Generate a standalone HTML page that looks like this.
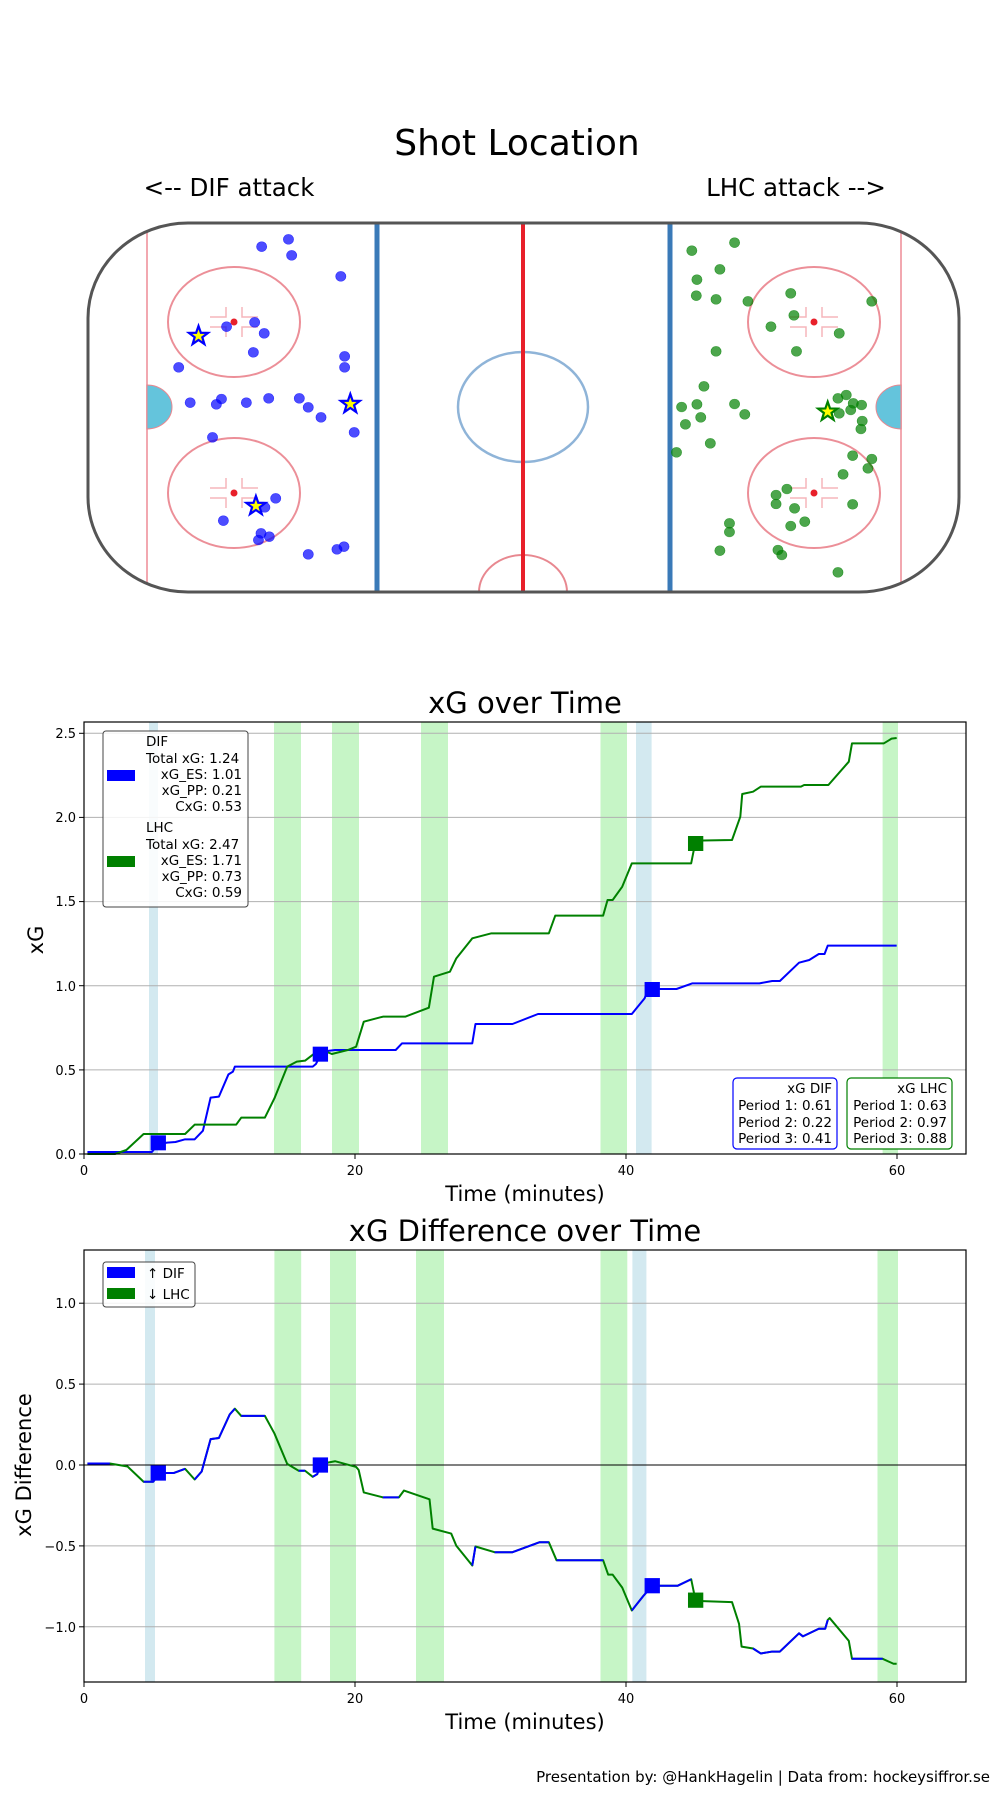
<!DOCTYPE html>
<html><head><meta charset="utf-8"><style>
html,body{margin:0;padding:0;background:#fff;}
svg{display:block;font-family:"DejaVu Sans","Liberation Sans",sans-serif;}
</style></head><body>
<svg width="1000" height="1800" viewBox="0 0 1000 1800" xmlns="http://www.w3.org/2000/svg">
<defs>
<polygon id="star" points="0,-10 2.35,-3.24 9.51,-3.09 3.8,1.24 5.88,8.09 0,4 -5.88,8.09 -3.8,1.24 -9.51,-3.09 -2.35,-3.24"/>
<clipPath id="rinkclip"><rect x="88" y="223" width="871" height="369" rx="100" ry="95"/></clipPath>
</defs>
<!-- Shot Location -->
<text x="517" y="155" font-size="36" text-anchor="middle">Shot Location</text>
<text x="229" y="196" font-size="24.5" text-anchor="middle">&lt;-- DIF attack</text>
<text x="796" y="196" font-size="24.5" text-anchor="middle">LHC attack --&gt;</text>
<g clip-path="url(#rinkclip)">
<rect x="88" y="223" width="871" height="369" fill="#fff"/>
<line x1="147" y1="223" x2="147" y2="592" stroke="#f2a8b0" stroke-width="2"/>
<line x1="901" y1="223" x2="901" y2="592" stroke="#f2a8b0" stroke-width="2"/>
<path d="M147,385 A25,22 0 0 1 147,429 Z" fill="#64c4dc" stroke="#e88890"/>
<path d="M901,385 A25,22 0 0 0 901,429 Z" fill="#64c4dc" stroke="#e88890"/>
<line x1="377" y1="223" x2="377" y2="592" stroke="#3a7ab8" stroke-width="5"/>
<line x1="670" y1="223" x2="670" y2="592" stroke="#3a7ab8" stroke-width="5"/>
<ellipse cx="523" cy="407" rx="65" ry="55" fill="none" stroke="#8fb4d8" stroke-width="2.5"/>
<ellipse cx="523" cy="592" rx="44" ry="37" fill="none" stroke="#e88890" stroke-width="2"/>
<line x1="523" y1="223" x2="523" y2="592" stroke="#e8202a" stroke-width="4"/>
<g fill="none" stroke="#ec8f98" stroke-width="2">
<ellipse cx="234" cy="322" rx="66" ry="55"/><ellipse cx="234" cy="493" rx="66" ry="55"/>
<ellipse cx="814" cy="322" rx="66" ry="55"/><ellipse cx="814" cy="493" rx="66" ry="55"/>
</g>
<g stroke="#f5b5bb" stroke-width="1.5" fill="none">
<path d="M210,317h16v-10M210,327h16v10M258,317h-16v-10M258,327h-16v10"/>
<path d="M210,488h16v-10M210,498h16v10M258,488h-16v-10M258,498h-16v10"/>
<path d="M790,317h16v-10M790,327h16v10M838,317h-16v-10M838,327h-16v10"/>
<path d="M790,488h16v-10M790,498h16v10M838,488h-16v-10M838,498h-16v10"/>
</g>
<g fill="#e8202a"><circle cx="234" cy="322" r="3.5"/><circle cx="234" cy="493" r="3.5"/><circle cx="814" cy="322" r="3.5"/><circle cx="814" cy="493" r="3.5"/></g>
</g>
<rect x="88" y="223" width="871" height="369" rx="100" ry="95" fill="none" stroke="#555" stroke-width="3"/>
<g transform="translate(0,100) scale(0.6382,0.33333)">
<g fill="blue" fill-opacity="0.7" stroke="blue" stroke-opacity="0.7">
<ellipse cx="452" cy="418" rx="8" ry="15"/><ellipse cx="410" cy="440" rx="8" ry="15"/><ellipse cx="457" cy="466" rx="8" ry="15"/><ellipse cx="534" cy="529" rx="8" ry="15"/><ellipse cx="355" cy="680" rx="8" ry="15"/><ellipse cx="399" cy="667" rx="8" ry="15"/><ellipse cx="414" cy="700" rx="8" ry="15"/><ellipse cx="397" cy="757" rx="8" ry="15"/><ellipse cx="280" cy="802" rx="8" ry="15"/><ellipse cx="540" cy="769" rx="8" ry="15"/><ellipse cx="540" cy="802" rx="8" ry="15"/><ellipse cx="298" cy="908" rx="8" ry="15"/><ellipse cx="339" cy="913" rx="8" ry="15"/><ellipse cx="347" cy="897" rx="8" ry="15"/><ellipse cx="386" cy="908" rx="8" ry="15"/><ellipse cx="421" cy="895" rx="8" ry="15"/><ellipse cx="469" cy="895" rx="8" ry="15"/><ellipse cx="483" cy="922" rx="8" ry="15"/><ellipse cx="503" cy="952" rx="8" ry="15"/><ellipse cx="555" cy="997" rx="8" ry="15"/><ellipse cx="333" cy="1012" rx="8" ry="15"/><ellipse cx="432" cy="1195" rx="8" ry="15"/><ellipse cx="415" cy="1222" rx="8" ry="15"/><ellipse cx="350" cy="1262" rx="8" ry="15"/><ellipse cx="409" cy="1300" rx="8" ry="15"/><ellipse cx="422" cy="1310" rx="8" ry="15"/><ellipse cx="405" cy="1320" rx="8" ry="15"/><ellipse cx="483" cy="1363" rx="8" ry="15"/><ellipse cx="528" cy="1348" rx="8" ry="15"/><ellipse cx="539" cy="1340" rx="8" ry="15"/>
</g>
<g fill="green" fill-opacity="0.7" stroke="green" stroke-opacity="0.7">
<ellipse cx="1084" cy="452" rx="8" ry="15"/><ellipse cx="1151" cy="428" rx="8" ry="15"/><ellipse cx="1128" cy="508" rx="8" ry="15"/><ellipse cx="1092" cy="539" rx="8" ry="15"/><ellipse cx="1091" cy="587" rx="8" ry="15"/><ellipse cx="1122" cy="598" rx="8" ry="15"/><ellipse cx="1172" cy="604" rx="8" ry="15"/><ellipse cx="1239" cy="580" rx="8" ry="15"/><ellipse cx="1366" cy="604" rx="8" ry="15"/><ellipse cx="1244" cy="646" rx="8" ry="15"/><ellipse cx="1208" cy="680" rx="8" ry="15"/><ellipse cx="1315" cy="700" rx="8" ry="15"/><ellipse cx="1122" cy="754" rx="8" ry="15"/><ellipse cx="1248" cy="754" rx="8" ry="15"/><ellipse cx="1103" cy="859" rx="8" ry="15"/><ellipse cx="1068" cy="921" rx="8" ry="15"/><ellipse cx="1092" cy="913" rx="8" ry="15"/><ellipse cx="1151" cy="912" rx="8" ry="15"/><ellipse cx="1167" cy="943" rx="8" ry="15"/><ellipse cx="1098" cy="952" rx="8" ry="15"/><ellipse cx="1074" cy="973" rx="8" ry="15"/><ellipse cx="1313" cy="895" rx="8" ry="15"/><ellipse cx="1326" cy="885" rx="8" ry="15"/><ellipse cx="1337" cy="910" rx="8" ry="15"/><ellipse cx="1350" cy="915" rx="8" ry="15"/><ellipse cx="1333" cy="930" rx="8" ry="15"/><ellipse cx="1315" cy="940" rx="8" ry="15"/><ellipse cx="1351" cy="963" rx="8" ry="15"/><ellipse cx="1349" cy="987" rx="8" ry="15"/><ellipse cx="1113" cy="1030" rx="8" ry="15"/><ellipse cx="1060" cy="1057" rx="8" ry="15"/><ellipse cx="1336" cy="1067" rx="8" ry="15"/><ellipse cx="1366" cy="1077" rx="8" ry="15"/><ellipse cx="1360" cy="1105" rx="8" ry="15"/><ellipse cx="1321" cy="1123" rx="8" ry="15"/><ellipse cx="1233" cy="1167" rx="8" ry="15"/><ellipse cx="1216" cy="1185" rx="8" ry="15"/><ellipse cx="1216" cy="1212" rx="8" ry="15"/><ellipse cx="1245" cy="1225" rx="8" ry="15"/><ellipse cx="1336" cy="1213" rx="8" ry="15"/><ellipse cx="1143" cy="1270" rx="8" ry="15"/><ellipse cx="1143" cy="1296" rx="8" ry="15"/><ellipse cx="1261" cy="1265" rx="8" ry="15"/><ellipse cx="1239" cy="1278" rx="8" ry="15"/><ellipse cx="1128" cy="1352" rx="8" ry="15"/><ellipse cx="1219" cy="1350" rx="8" ry="15"/><ellipse cx="1225" cy="1365" rx="8" ry="15"/><ellipse cx="1313" cy="1417" rx="8" ry="15"/>
</g>
</g>
<g fill="yellow" stroke="blue" stroke-width="2.2">
<use href="#star" x="198.5" y="336"/><use href="#star" x="350.3" y="404"/><use href="#star" x="255.9" y="506"/>
</g>
<use href="#star" x="827.7" y="411.7" fill="yellow" stroke="green" stroke-width="2.2"/>

<!-- xG over Time -->
<text x="525" y="713" font-size="29" text-anchor="middle">xG over Time</text>
<g fill="#c6f5c6">
<rect x="274" y="722" width="27" height="432"/><rect x="332" y="722" width="27" height="432"/><rect x="421" y="722" width="27" height="432"/><rect x="600.5" y="722" width="26.5" height="432"/><rect x="882.6" y="722" width="15.4" height="432"/>
</g>
<g fill="#d3e9f0"><rect x="149" y="722" width="9" height="432"/><rect x="636" y="722" width="15.6" height="432"/></g>
<g stroke="#b0b0b0" stroke-width="1">
<line x1="84" y1="733.3" x2="966" y2="733.3"/><line x1="84" y1="817.4" x2="966" y2="817.4"/><line x1="84" y1="901.6" x2="966" y2="901.6"/><line x1="84" y1="985.7" x2="966" y2="985.7"/><line x1="84" y1="1069.9" x2="966" y2="1069.9"/>
</g>
<g transform="translate(0,680) scale(0.6382,0.33333)" fill="none" stroke-width="2" stroke-linejoin="round">
<polyline vector-effect="non-scaling-stroke" stroke="blue" points="137,1416 238,1416 248,1392 262,1388 275,1386 290,1378 305,1378 318,1352 330,1253 343,1250 358,1183 365,1175 368,1160 490,1160 495,1152 505,1115 525,1110 620,1110 630,1090 740,1090 745,1032 803,1032 843,1002 990,1002 1010,955 1015,930 1030,927 1060,927 1085,910 1190,910 1210,903 1222,903 1252,848 1268,840 1283,822 1292,822 1297,797 1405,797"/>
<polyline vector-effect="non-scaling-stroke" stroke="green" points="137,1422 180,1422 198,1410 225,1362 290,1362 305,1334 370,1334 378,1313 415,1313 430,1255 450,1160 465,1145 478,1142 493,1120 505,1110 520,1122 545,1110 558,1100 570,1025 600,1010 635,1010 672,983 680,890 705,875 715,835 740,775 770,760 860,760 870,707 945,707 952,660 960,660 975,620 990,550 1083,550 1090,482 1147,480 1160,410 1163,342 1180,335 1192,320 1255,320 1260,315 1298,315 1330,245 1335,190 1385,190 1397,176 1405,174"/>
<g stroke="none"><rect x="236" y="1366" width="24" height="45" fill="blue"/><rect x="490" y="1100" width="24" height="45" fill="blue"/><rect x="1010" y="906" width="24" height="45" fill="blue"/><rect x="1078" y="468" width="24" height="45" fill="green"/></g>
</g>
<rect x="84" y="722" width="882" height="432" fill="none" stroke="#000" stroke-width="1.2"/>
<g stroke="#000"><line x1="84" y1="1154" x2="84" y2="1159"/><line x1="355" y1="1154" x2="355" y2="1159"/><line x1="626" y1="1154" x2="626" y2="1159"/><line x1="897" y1="1154" x2="897" y2="1159"/>
<line x1="79" y1="1154" x2="84" y2="1154"/><line x1="79" y1="1069.9" x2="84" y2="1069.9"/><line x1="79" y1="985.7" x2="84" y2="985.7"/><line x1="79" y1="901.6" x2="84" y2="901.6"/><line x1="79" y1="817.4" x2="84" y2="817.4"/><line x1="79" y1="733.3" x2="84" y2="733.3"/></g>
<g font-size="13" text-anchor="middle"><text x="84" y="1175">0</text><text x="355" y="1175">20</text><text x="626" y="1175">40</text><text x="897" y="1175">60</text></g>
<g font-size="13" text-anchor="end"><text x="76" y="1159">0.0</text><text x="76" y="1075">0.5</text><text x="76" y="991">1.0</text><text x="76" y="906">1.5</text><text x="76" y="822">2.0</text><text x="76" y="738">2.5</text></g>
<text x="525" y="1201" font-size="21" text-anchor="middle">Time (minutes)</text>
<text transform="translate(43,940) rotate(-90)" font-size="21" text-anchor="middle">xG</text>
<rect x="103" y="731" width="145" height="176" rx="3" fill="#fff" fill-opacity="0.85" stroke="#444" stroke-width="1"/>
<rect x="107" y="770" width="28" height="11" fill="blue"/><rect x="107" y="856" width="28" height="11" fill="green"/>
<g font-size="13.5"><text x="146" y="746">DIF</text><text x="146" y="763">Total xG: 1.24</text><text x="242" y="779" text-anchor="end">xG_ES: 1.01</text><text x="242" y="795" text-anchor="end">xG_PP: 0.21</text><text x="242" y="811" text-anchor="end">CxG: 0.53</text>
<text x="146" y="832">LHC</text><text x="146" y="849">Total xG: 2.47</text><text x="242" y="865" text-anchor="end">xG_ES: 1.71</text><text x="242" y="881" text-anchor="end">xG_PP: 0.73</text><text x="242" y="897" text-anchor="end">CxG: 0.59</text></g>
<rect x="733" y="1078" width="104" height="71" rx="4" fill="#fff" stroke="blue" stroke-width="1.2"/>
<rect x="847" y="1078" width="105" height="71" rx="4" fill="#fff" stroke="green" stroke-width="1.2"/>
<g font-size="13.5" text-anchor="end"><text x="832" y="1093">xG DIF</text><text x="832" y="1110">Period 1: 0.61</text><text x="832" y="1127">Period 2: 0.22</text><text x="832" y="1143">Period 3: 0.41</text>
<text x="947" y="1093">xG LHC</text><text x="947" y="1110">Period 1: 0.63</text><text x="947" y="1127">Period 2: 0.97</text><text x="947" y="1143">Period 3: 0.88</text></g>

<!-- xG Difference -->
<text x="525" y="1241" font-size="29" text-anchor="middle">xG Difference over Time</text>
<g transform="translate(0,5)">
<g fill="#c6f5c6">
<rect x="274.4" y="1245" width="26.8" height="432"/><rect x="330" y="1245" width="26" height="432"/><rect x="416" y="1245" width="28" height="432"/><rect x="600.5" y="1245" width="26.8" height="432"/><rect x="877.5" y="1245" width="20.5" height="432"/>
</g>
<g fill="#d3e9f0"><rect x="145" y="1245" width="10" height="432"/><rect x="632.4" y="1245" width="14" height="432"/></g>
<g stroke="#b0b0b0"><line x1="84" y1="1298.2" x2="966" y2="1298.2"/><line x1="84" y1="1379.1" x2="966" y2="1379.1"/><line x1="84" y1="1540.9" x2="966" y2="1540.9"/><line x1="84" y1="1621.8" x2="966" y2="1621.8"/></g>
<line x1="84" y1="1460" x2="966" y2="1460" stroke="#000" stroke-width="1"/>
<g transform="translate(0,1196.2) scale(0.6382,0.3807)" fill="none" stroke-width="2" stroke-linejoin="round">
<polyline vector-effect="non-scaling-stroke" stroke="green" points="137,689 172,689 200,697 225,737 240,737 250,714 272,714 290,703 305,731 316,710 330,625 343,622 360,560 368,545 378,564 415,564 430,610 450,690 468,708 478,708 490,724 497,717 503,690 525,683 558,698 562,706 570,765 600,778 625,778 633,760 673,783 678,860 707,873 715,905 740,957 745,907 775,922 803,922 845,896 860,896 872,943 945,943 953,981 960,981 975,1015 990,1075 1008,1037 1022,1010 1062,1010 1083,993 1090,1050 1147,1053 1158,1110 1162,1170 1180,1175 1192,1188 1210,1183 1222,1183 1252,1135 1258,1143 1283,1123 1293,1123 1297,1100 1300,1095 1330,1155 1335,1202 1383,1202 1400,1215 1405,1215"/>
<g stroke="blue">
<polyline vector-effect="non-scaling-stroke" points="137,689 172,689"/>
<polyline vector-effect="non-scaling-stroke" points="225,737 240,737 250,714 272,714 290,703"/>
<polyline vector-effect="non-scaling-stroke" points="305,731 316,710 330,625 343,622 360,560 368,545"/>
<polyline vector-effect="non-scaling-stroke" points="378,564 415,564"/>
<polyline vector-effect="non-scaling-stroke" points="468,708 478,708"/>
<polyline vector-effect="non-scaling-stroke" points="490,724 497,717 503,690"/>
<polyline vector-effect="non-scaling-stroke" points="600,778 625,778"/>
<polyline vector-effect="non-scaling-stroke" points="740,957 745,907"/>
<polyline vector-effect="non-scaling-stroke" points="775,922 803,922 845,896 860,896"/>
<polyline vector-effect="non-scaling-stroke" points="872,943 945,943"/>
<polyline vector-effect="non-scaling-stroke" points="990,1075 1008,1037 1022,1010 1062,1010 1083,993"/>
<polyline vector-effect="non-scaling-stroke" points="1180,1175 1192,1188 1210,1183 1222,1183 1252,1135 1258,1143 1283,1123 1293,1123 1297,1100"/>
<polyline vector-effect="non-scaling-stroke" points="1335,1202 1383,1202"/>
</g>
<g stroke="none"><rect x="236" y="694" width="24" height="40" fill="blue"/><rect x="490" y="673" width="24" height="40" fill="blue"/><rect x="1010" y="990" width="24" height="40" fill="blue"/><rect x="1078" y="1028" width="24" height="40" fill="green"/></g>
</g>
<rect x="84" y="1245" width="882" height="432" fill="none" stroke="#000" stroke-width="1.2"/>
<g stroke="#000"><line x1="84" y1="1677" x2="84" y2="1682"/><line x1="355" y1="1677" x2="355" y2="1682"/><line x1="626" y1="1677" x2="626" y2="1682"/><line x1="897" y1="1677" x2="897" y2="1682"/>
<line x1="79" y1="1298.2" x2="84" y2="1298.2"/><line x1="79" y1="1379.1" x2="84" y2="1379.1"/><line x1="79" y1="1460" x2="84" y2="1460"/><line x1="79" y1="1540.9" x2="84" y2="1540.9"/><line x1="79" y1="1621.8" x2="84" y2="1621.8"/></g>
<g font-size="13" text-anchor="middle"><text x="84" y="1698">0</text><text x="355" y="1698">20</text><text x="626" y="1698">40</text><text x="897" y="1698">60</text></g>
<g font-size="13" text-anchor="end"><text x="76" y="1303">1.0</text><text x="76" y="1384">0.5</text><text x="76" y="1465">0.0</text><text x="76" y="1546">−0.5</text><text x="76" y="1627">−1.0</text></g>
<text x="525" y="1724" font-size="21" text-anchor="middle">Time (minutes)</text>
<text transform="translate(31,1460) rotate(-90)" font-size="21" text-anchor="middle">xG Difference</text>
<rect x="103" y="1257" width="92" height="45" rx="3" fill="#fff" fill-opacity="0.85" stroke="#444"/>
<rect x="107" y="1262" width="28" height="11" fill="blue"/><rect x="107" y="1283" width="28" height="11" fill="green"/>
<g font-size="13.5"><text x="147" y="1273">↑ DIF</text><text x="147" y="1294">↓ LHC</text></g>
</g>

<text x="990" y="1782" font-size="15" text-anchor="end">Presentation by: @HankHagelin | Data from: hockeysiffror.se</text>
</svg>
</body></html>
